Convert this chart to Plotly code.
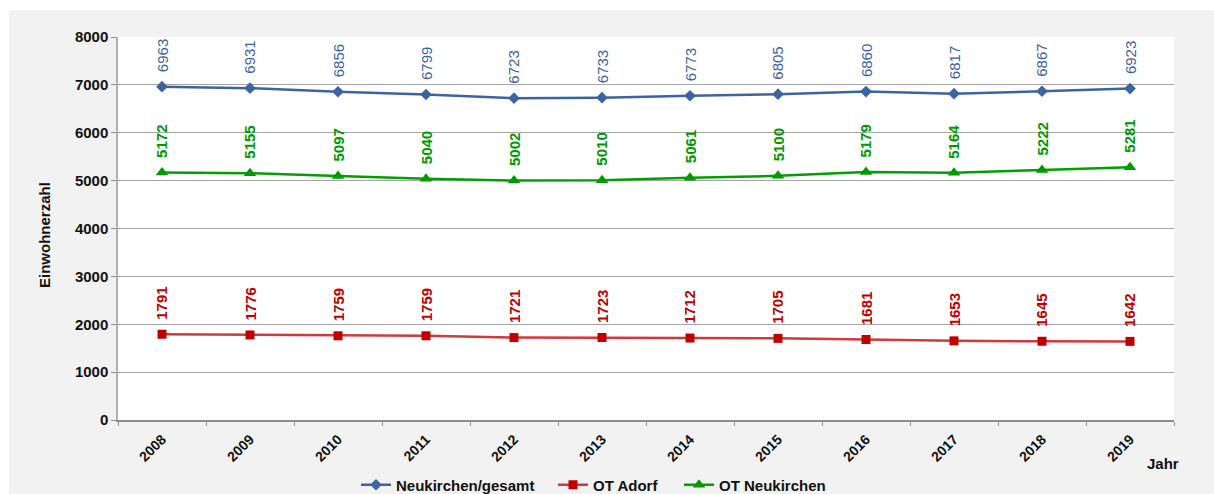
import plotly.graph_objects as go

years = ["2008", "2009", "2010", "2011", "2012", "2013", "2014", "2015", "2016", "2017", "2018", "2019"]
gesamt = [6963, 6931, 6856, 6799, 6723, 6733, 6773, 6805, 6860, 6817, 6867, 6923]
adorf = [1791, 1776, 1759, 1759, 1721, 1723, 1712, 1705, 1681, 1653, 1645, 1642]
ot_neukirchen = [5172, 5155, 5097, 5040, 5002, 5010, 5061, 5100, 5179, 5164, 5222, 5281]
y_ticks = [0, 1000, 2000, 3000, 4000, 5000, 6000, 7000, 8000]

series = [
    ("Neukirchen/gesamt", gesamt, "#3d64a0", "#3d64a0", "diamond", 9, "#3f62a0", "normal", "legend", 356),
    ("OT Adorf", adorf, "#d03a3a", "#c00000", "square", 9, "#c00000", "bold", "legend2", 553),
    ("OT Neukirchen", ot_neukirchen, "#00a000", "#009900", "triangle-up", 11, "#009900", "bold", "legend3", 679),
]

fig = go.Figure()
L, R, T, B = 118, 40, 37, 74
W, H = 1214, 494
pw, ph = W - L - R, H - T - B

def px_x(p):
    return (p - L) / pw

def px_y(p):
    return (H - B - p) / ph

legends = {}
for name, vals, lc, mc, sym, ms, tc, fw, lg, lgx in series:
    fig.add_trace(go.Scatter(
        x=years, y=vals, name=name, mode="lines+markers",
        line=dict(color=lc, width=2.5),
        marker=dict(symbol=sym, size=ms, color=mc),
        legend=lg,
    ))
    legends[lg] = dict(orientation="h", x=px_x(lgx), y=px_y(485), xanchor="left", yanchor="middle",
                       font=dict(size=15, weight="bold", color="#111"), bgcolor="rgba(0,0,0,0)",
                       itemwidth=30)
    for i, yv in enumerate(vals):
        fig.add_annotation(
            x=i, y=yv, xref="x", yref="y", text=str(yv), showarrow=False, textangle=-90,
            xanchor="center", yanchor="bottom", yshift=12,
            font=dict(family="Liberation Sans", size=15, color=tc, weight=fw),
        )

fig.add_shape(type="rect", xref="paper", yref="paper",
              x0=px_x(9), x1=px_x(1216), y0=px_y(496), y1=px_y(10),
              fillcolor="#f2f2f2", line=dict(width=0), layer="below")
fig.add_shape(type="rect", xref="paper", yref="paper",
              x0=0, x1=1, y0=0, y1=1,
              fillcolor="white", line=dict(width=0), layer="below")

fig.add_annotation(xref="paper", yref="paper", x=px_x(1163), y=px_y(463),
                   xanchor="center", yanchor="middle",
                   text="Jahr", showarrow=False,
                   font=dict(family="Liberation Sans", size=15, color="#111", weight="bold"))
fig.add_annotation(xref="paper", yref="paper", x=px_x(45), y=px_y(235),
                   xanchor="center", yanchor="middle",
                   text="Einwohnerzahl", showarrow=False, textangle=-90,
                   font=dict(family="Liberation Sans", size=15, color="#111", weight="bold"))

fig.update_layout(
    width=W, height=H,
    margin=dict(l=L, r=R, t=T, b=B, autoexpand=False),
    paper_bgcolor="white", plot_bgcolor="rgba(0,0,0,0)",
    font=dict(family="Liberation Sans", color="#111"),
    showlegend=True,
    xaxis=dict(type="category", tickangle=-45, tickson="boundaries",
               showline=True, linecolor="#8c8c8c", linewidth=1.5,
               ticks="outside", ticklen=4, tickcolor="#8c8c8c",
               showgrid=False, tickfont=dict(size=14, weight="bold"),
               ticklabelstandoff=4, range=[-0.5, 11.5]),
    yaxis=dict(range=[0, 8000], tickvals=y_ticks, showgrid=True, gridcolor="#a6a6a6",
               gridwidth=1, showline=True, linecolor="#b0b0b0", linewidth=1.5,
               ticks="outside", ticklen=5, tickcolor="#8c8c8c",
               tickfont=dict(size=15, weight="bold"), zeroline=False),
    **legends,
)

fig.write_html("out.html", config={"displayModeBar": False},
               post_script="document.body.style.margin='0';document.body.style.overflow='hidden';")
